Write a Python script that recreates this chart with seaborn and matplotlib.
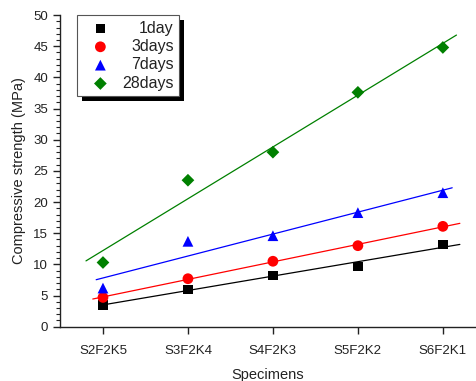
import numpy as np
import pandas as pd
import seaborn as sns
import matplotlib
matplotlib.use("Agg")
import matplotlib.pyplot as plt
from matplotlib.ticker import MultipleLocator
from matplotlib.patches import Rectangle

specimens = ["S2F2K5", "S3F2K4", "S4F2K3", "S5F2K2", "S6F2K1"]
day1 = [3.5, 6.0, 8.2, 9.7, 13.2]
day3 = [4.7, 7.7, 10.5, 13.0, 16.1]
day7 = [6.2, 13.7, 14.6, 18.3, 21.5]
day28 = [10.3, 23.5, 28.0, 37.6, 44.8]
series_names = ["1day", "3days", "7days", "28days"]

sns.set_theme(style="ticks")
plt.rcParams['font.family'] = ['Liberation Sans', 'DejaVu Sans']

rows = []
for name, vals in zip(series_names, [day1, day3, day7, day28]):
    for i, v in enumerate(vals):
        rows.append({"idx": i, "Specimen": specimens[i], "value": v, "series": name})
df = pd.DataFrame(rows)

colors = {"1day": "black", "3days": "#ff0000", "7days": "#0000ff", "28days": "#008000"}
markers = {"1day": "s", "3days": "o", "7days": "^", "28days": "D"}
sizes = {"1day": 45, "3days": 60, "7days": 60, "28days": 42}
fit_range = {"1day": (0.0, 4.2), "3days": (-0.12, 4.2), "7days": (-0.08, 4.11), "28days": (-0.2, 4.16)}

fig = plt.figure(figsize=(4.76, 3.81), dpi=100)
ax = fig.add_axes([0.126, 0.1425, 0.874, 0.818])

for name in series_names:
    d = df[df.series == name]
    k, b = np.polyfit(d.idx, d.value, 1)
    x0, x1 = fit_range[name]
    xs = np.array([x0, x1])
    ax.plot(xs, k * xs + b, color=colors[name], lw=0.9, zorder=1)

for name in series_names:
    d = df[df.series == name]
    sns.scatterplot(data=d, x="idx", y="value", color=colors[name], marker=markers[name],
                    s=sizes[name], edgecolor="none", ax=ax, label=name, zorder=3)

ax.set_xlim(-0.506, 4.39)
ax.set_ylim(0, 50)
ax.set_xticks(range(len(specimens)))
ax.set_xticklabels(specimens)
ax.yaxis.set_major_locator(MultipleLocator(5))
ax.yaxis.set_minor_locator(MultipleLocator(1))
ax.tick_params(axis='both', which='major', direction='out', length=5, width=1, labelsize=9.5, colors='#222222')
ax.tick_params(axis='y', which='minor', direction='out', length=3, width=0.8, colors='#222222')
ax.tick_params(axis='x', pad=8)
for s in ['top', 'right']:
    ax.spines[s].set_visible(False)
for s in ['left', 'bottom']:
    ax.spines[s].set_color('#222222')
    ax.spines[s].set_linewidth(1.0)
ax.set_xlabel("Specimens", fontsize=10.5, color='#222222', labelpad=8)
ax.set_ylabel("Compressive strength (MPa)", fontsize=10.5, color='#222222', labelpad=5)

leg = ax.legend(loc='upper left', bbox_to_anchor=(0.042, 1.0), frameon=True, fancybox=False,
                shadow=False, fontsize=11.5, handletextpad=0.29,
                borderpad=0.35, labelspacing=0.21, borderaxespad=0.0, handlelength=2.17)
leg.get_frame().set_edgecolor('#555555')
leg.get_frame().set_linewidth(0.8)
leg.get_frame().set_alpha(1.0)
for t in leg.get_texts():
    t.set_color('#222222')
leg.set_zorder(5)

# right-align the legend labels
fig.canvas.draw()
r = fig.canvas.get_renderer()
widths = [t.get_window_extent(r).width for t in leg.get_texts()]
mw = max(widths)
for t, w in zip(leg.get_texts(), widths):
    t.set_x(mw - w)

# solid black drop shadow behind the legend
bb = leg.get_window_extent(r)
shadow = Rectangle((bb.x0 + 5, bb.y0 - 5), bb.width, bb.height, transform=None,
                   facecolor='black', edgecolor='none', zorder=4.5, clip_on=False)
ax.add_artist(shadow)

fig.savefig("out.png", dpi=100)
